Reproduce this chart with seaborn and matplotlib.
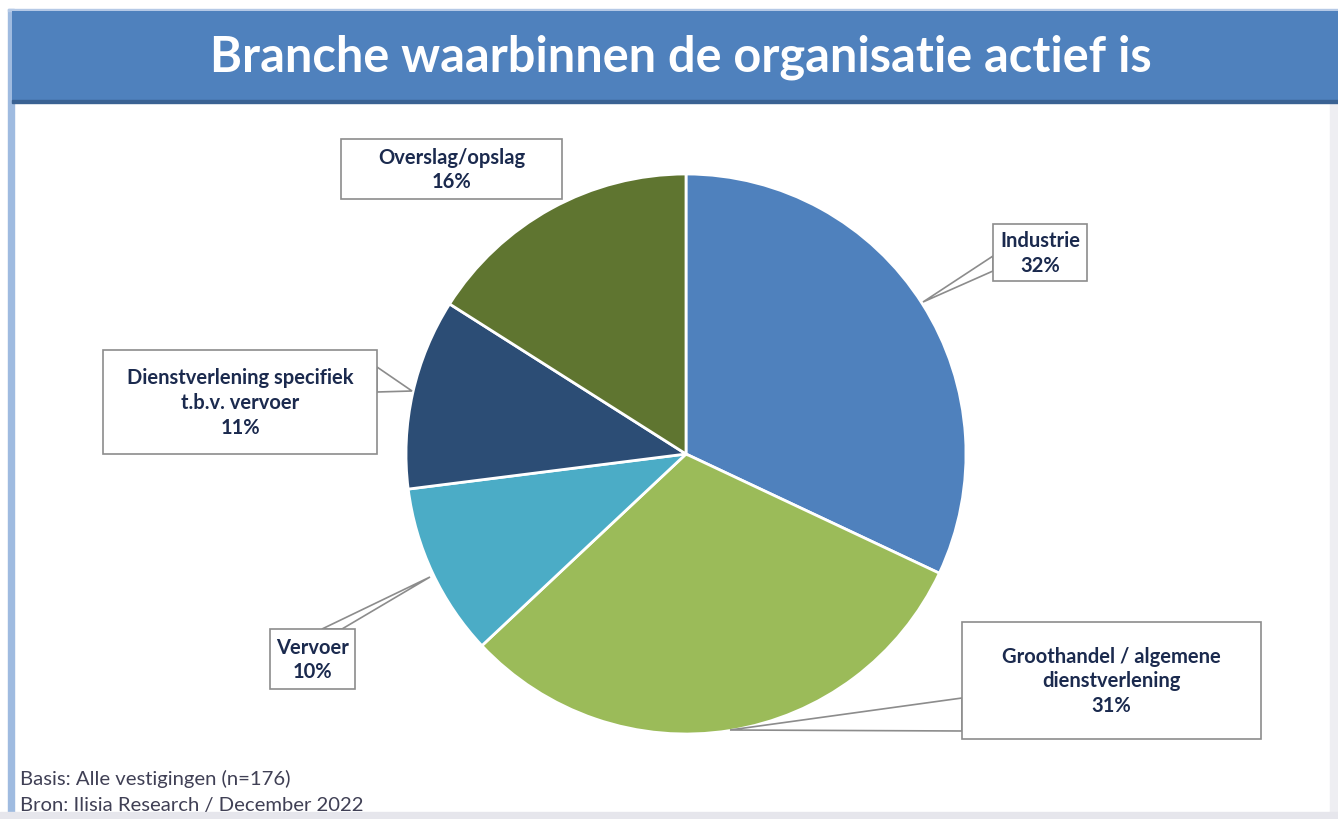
import matplotlib
matplotlib.use("Agg")
import matplotlib.pyplot as plt
from matplotlib.patches import Rectangle, Polygon
import seaborn as sns

sns.set_theme(style="white")
plt.rcParams['font.family'] = ['Lato', 'DejaVu Sans']

categories = ['Industrie', 'Groothandel / algemene\ndienstverlening', 'Vervoer',
              'Dienstverlening specifiek\nt.b.v. vervoer', 'Overslag/opslag']
values = [32, 31, 10, 11, 16]
colors = ['#4F81BD', '#9BBB59', '#4BACC6', '#2C4D75', '#5F7530']

title = 'Branche waarbinnen de organisatie actief is'
footer = ['Basis: Alle vestigingen (n=176)', 'Bron: Ilisia Research / December 2022']

W, H = 1338, 820


def Y(y):
    # pixel row (from top) to data y
    return H - y


fig = plt.figure(figsize=(13.38, 8.2), dpi=100)
ax = fig.add_axes([0, 0, 1, 1])

ax.pie(values, colors=colors, startangle=90, counterclock=False,
       center=(686, Y(455)), radius=280,
       wedgeprops=dict(edgecolor='white', linewidth=2))
ax.set_aspect('auto')
ax.set_xlim(0, W)
ax.set_ylim(0, H)
ax.axis('off')

# slide frame
ax.add_patch(Rectangle((8, 0), 6, Y(10), color='#9FBBE0', zorder=0.5))
ax.add_patch(Rectangle((8, Y(12)), W, 2, color='#B5C9E6', zorder=0.5))
ax.add_patch(Rectangle((W - 8, 0), 8, Y(103), color='#EEEEF2', zorder=0.5))
ax.add_patch(Rectangle((0, 0), W, 7, color='#E6E6EC', zorder=0.5))
ax.add_patch(Rectangle((12, Y(103)), W - 12, 91, facecolor='#4F81BD',
                       edgecolor='none', zorder=1))
ax.add_patch(Rectangle((12, Y(104)), W - 12, 3, color='#3A6293', zorder=1))
ax.text(681, Y(57), title, color='white', fontsize=35, fontweight='bold',
        ha='center', va='center', zorder=2)

# callout boxes: (x0, y0, x1, y1), pointer base points, pointer tip (pixels)
callouts = [
    ((993, 225, 1087, 282), [(993, 257), (993, 272)], (923, 303)),
    ((962, 623, 1261, 740), [(962, 699), (962, 732)], (730, 731)),
    ((270, 630, 355, 690), [(322, 630), (342, 630)], (430, 578)),
    ((103, 351, 377, 455), [(377, 368), (377, 393)], (412, 392)),
    ((341, 140, 562, 200), None, None),
]

for cat, val, (box, base, tip) in zip(categories, values, callouts):
    x0, y0, x1, y1 = box
    if base is not None:
        pts = [(base[0][0], Y(base[0][1])), (tip[0], Y(tip[1])),
               (base[1][0], Y(base[1][1]))]
        ax.add_patch(Polygon(pts, closed=True, facecolor='white',
                             edgecolor='#8C8C8C', linewidth=1.2, zorder=3))
    ax.add_patch(Rectangle((x0, Y(y1)), x1 - x0, y1 - y0, facecolor='white',
                           edgecolor='#8C8C8C', linewidth=1.2, zorder=4))
    ax.text((x0 + x1) / 2, Y((y0 + y1) / 2), f'{cat}\n{val}%', color='#1B2A4E',
            fontsize=14.5, fontweight='bold', ha='center', va='center',
            linespacing=1.3, zorder=5)

ax.text(20, Y(779), footer[0], color='#404055', fontsize=14.6, va='center')
ax.text(20, Y(806), footer[1], color='#404055', fontsize=14.6, va='center')

fig.savefig('out.png', dpi=100)
